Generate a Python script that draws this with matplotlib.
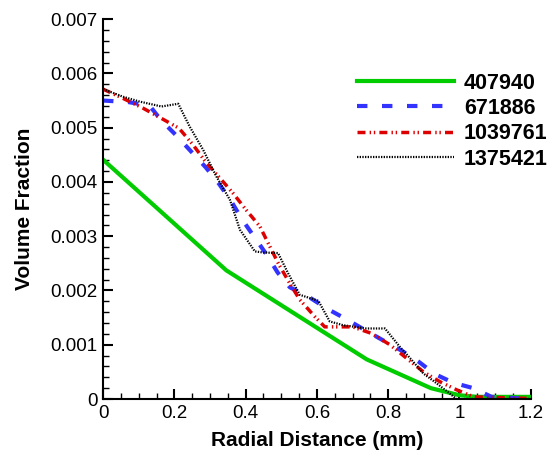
import matplotlib
matplotlib.use('Agg')
import matplotlib.pyplot as plt
from matplotlib.ticker import MultipleLocator, FuncFormatter

plt.rcParams['font.family'] = ['Liberation Sans', 'DejaVu Sans']

# 407940
x1 = [0.0, 0.346, 0.74, 0.92, 1.0, 1.05, 1.2]
y1 = [0.00441, 0.00237, 0.00073, 0.0002, 0.00007, 0.00004, 0.00004]

# 671886
x2 = [0.0, 0.073, 0.131, 0.164, 0.208, 0.25, 0.288, 0.326, 0.36, 0.39, 0.424, 0.459,
      0.49, 0.524, 0.58, 0.627, 0.683, 0.735, 0.786, 0.838, 0.885, 0.931, 0.983,
      1.039, 1.09, 1.18]
y2 = [0.0055, 0.00547, 0.0054, 0.00513, 0.00484, 0.00454, 0.00427, 0.00396, 0.00364,
      0.00331, 0.00299, 0.00266, 0.00233, 0.00206, 0.00187, 0.00167, 0.00147, 0.00127,
      0.00108, 0.00089, 0.00069, 0.00046, 0.0003, 0.0002, 0.00004, 0.00001]

# 1039761
x3 = [0.0, 0.056, 0.112, 0.164, 0.213, 0.253, 0.29, 0.328, 0.365, 0.402, 0.44, 0.468,
      0.494, 0.524, 0.552, 0.594, 0.622, 0.655, 0.70, 0.753, 0.805, 0.852, 0.899,
      0.945, 0.992, 1.04, 1.2]
y3 = [0.00571, 0.00554, 0.00536, 0.00517, 0.00499, 0.00468, 0.00435, 0.00407, 0.00379,
      0.00348, 0.00318, 0.00281, 0.00247, 0.00213, 0.00183, 0.00152, 0.00133, 0.00133,
      0.00133, 0.00121, 0.001, 0.00075, 0.0005, 0.00032, 0.00017, 0.00004, 0.00001]

# 1375421
x4 = [0.0, 0.056, 0.103, 0.164, 0.211, 0.243, 0.281, 0.318, 0.356, 0.384, 0.426, 0.449,
      0.491, 0.519, 0.552, 0.604, 0.636, 0.674, 0.739, 0.791, 0.833, 0.866, 0.899,
      0.936, 0.973, 0.992, 1.2]
y4 = [0.00571, 0.00557, 0.00548, 0.00539, 0.00544, 0.00502, 0.00459, 0.0041, 0.00367,
      0.00312, 0.00272, 0.0027, 0.00269, 0.00232, 0.00192, 0.00181, 0.00143, 0.00136,
      0.0013, 0.0013, 0.00096, 0.00072, 0.00047, 0.00029, 0.0001, 0.0, 0.0]

fig = plt.figure(figsize=(5.54, 4.55), dpi=100)
ax = fig.add_axes([0.186, 0.123, 0.772, 0.835])

ax.plot(x1, y1, color='#00cc00', lw=3, label='407940')
ax.plot(x2, y2, color='#3333ff', lw=3, linestyle=(0, (2.5, 3.5)), label='671886')
ax.plot(x3, y3, color='#dd0000', lw=2.5, linestyle=(0, (2.3, 1.2, 0.4, 0.8, 0.4, 1.2)), label='1039761')
ax.plot(x4, y4, color='black', lw=1.6, linestyle=(0, (0.6, 0.6)), label='1375421')

ax.set_xlim(0, 1.2)
ax.set_ylim(0, 0.007)
ax.xaxis.set_major_locator(MultipleLocator(0.2))
ax.xaxis.set_minor_locator(MultipleLocator(0.05))
ax.yaxis.set_major_locator(MultipleLocator(0.001))
ax.yaxis.set_minor_locator(MultipleLocator(0.0002))
ax.xaxis.set_major_formatter(FuncFormatter(lambda v, p: '%g' % round(v, 2)))
ax.yaxis.set_major_formatter(FuncFormatter(lambda v, p: '0' if abs(v) < 1e-9 else '%.3f' % v))

for s in ['top', 'right']:
    ax.spines[s].set_visible(False)
for s in ['left', 'bottom']:
    ax.spines[s].set_linewidth(1.5)
ax.tick_params(which='major', direction='in', length=7, width=1.5, labelsize=13.5, pad=4)
ax.tick_params(which='minor', direction='in', length=4, width=1)

ax.set_xlabel('Radial Distance (mm)', fontsize=15, fontweight='bold', labelpad=7)
ax.set_ylabel('Volume Fraction', fontsize=15, fontweight='bold', labelpad=12)

ax.legend(loc='upper right', bbox_to_anchor=(1.085, 0.91), frameon=False,
          handlelength=4.5, handletextpad=0.45, labelspacing=0.2,
          prop={'size': 15.5, 'weight': 'bold'})

fig.savefig('out.png', dpi=100)
